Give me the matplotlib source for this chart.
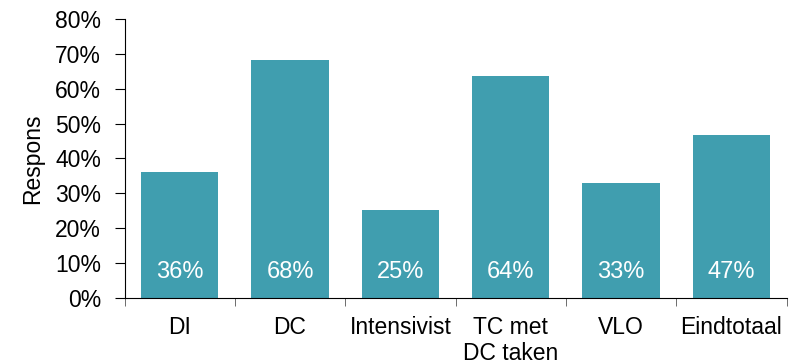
import matplotlib
matplotlib.use("Agg")
import matplotlib.pyplot as plt
import numpy as np

categories = ["DI", "DC", "Intensivist", "TC met\nDC taken", "VLO", "Eindtotaal"]
values = [0.362, 0.682, 0.252, 0.635, 0.331, 0.467]
labels = ["36%", "68%", "25%", "64%", "33%", "47%"]
yticks = [0, 0.1, 0.2, 0.3, 0.4, 0.5, 0.6, 0.7, 0.8]
ytick_labels = ["0%", "10%", "20%", "30%", "40%", "50%", "60%", "70%", "80%"]

plt.rcParams['font.family'] = ['Liberation Sans', 'DejaVu Sans']
fig = plt.figure(figsize=(7.93, 3.63), dpi=100)
ax = fig.add_axes([0.157, 0.179, 0.835, 0.769])

x = np.arange(len(categories))
color = "#409EAF"
ax.bar(x, values, width=0.70, color=color, zorder=2)
for xi, lab in zip(x, labels):
    ax.text(xi, 0.075, lab, ha="center", va="center", color="white", fontsize=17)

ax.set_xlim(-0.5, len(categories) - 0.5)
ax.set_ylim(0, 0.8)
ax.set_yticks(yticks)
ax.set_yticklabels(ytick_labels, fontsize=16.5)
ax.set_xticks(x)
ax.set_xticklabels(categories, fontsize=16.5, linespacing=1.15, va="top")
ax.set_xticks(np.arange(len(categories) + 1) - 0.5, minor=True)
ax.tick_params(axis="x", which="major", length=0, pad=13)
ax.tick_params(axis="x", which="minor", length=6, direction="out", color="#555555")
ax.tick_params(axis="y", length=7, direction="out", pad=10)
ax.spines["top"].set_visible(False)
ax.spines["right"].set_visible(False)
ax.set_ylabel("Respons", fontsize=16.5, labelpad=8)

fig.savefig("out.png", dpi=100)
